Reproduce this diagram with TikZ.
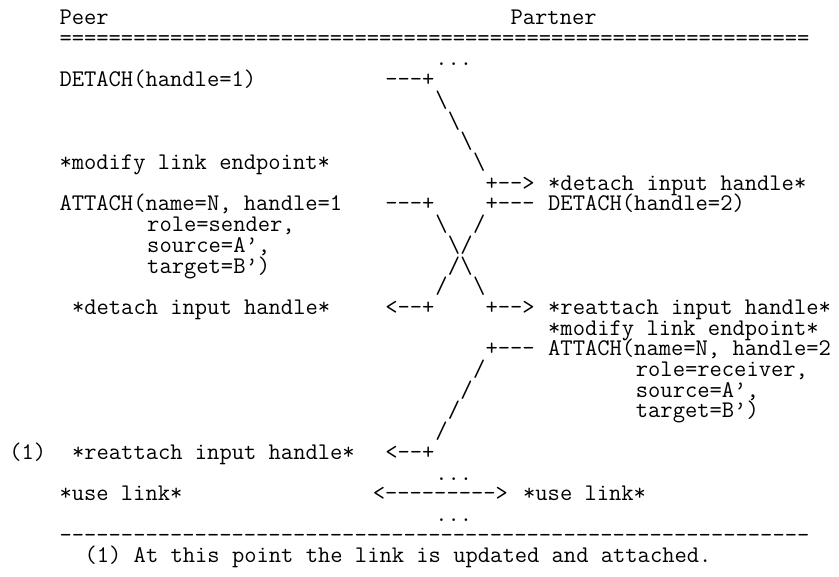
\documentclass[tikz,border=0pt]{standalone}
\usepackage{tikz}
\tikzset{
ascii/.style = {anchor=base west, inner sep=0pt, outer sep=0pt,
  font=\fontsize{23.87pt}{20.7pt}\selectfont\ttfamily},% one piece of the listing
wire/.style = {ascii},% connector drawn with ascii characters
}

\begin{document}
\begin{tikzpicture}[x=12.53pt, y=-20.7pt]
  \useasboundingbox (-4.749,-1.188) rectangle (62.21,26.686);
  % heading
  \node [ascii] (peer) at (0,0) {Peer};
  \node [ascii] (partner) at (36,0) {Partner};
  \node [ascii] (toprule) at (0,1) {=============================================================};
  % detach of handle 1
  \node [ascii] (dotsA) at (30,2) {...};
  \node [ascii] (detachA) at (0,3) {DETACH(handle=1)};
  \node [wire] (detachAout) at (26,3) {---+};
  \foreach \c/\r in {30/4,31/5,32/6,33/7}
    \node [wire] (dn\r) at (\c,\r) {\textbackslash};
  \node [ascii] (modifyA) at (0,7) {*modify link endpoint*};
  \node [wire] (detachBin) at (34,8) {+-->};
  \node [ascii] (detachinB) at (39,8) {*detach input handle*};
  % crossing attach / detach
  \node [ascii] (attachA) at (0,9) {ATTACH(name=N, handle=1};
  \node [wire] (attachAout) at (26,9) {---+};
  \node [wire] (detachBout) at (34,9) {+---};
  \node [ascii] (detachB) at (39,9) {DETACH(handle=2)};
  \node [ascii] (roleA) at (7,10) {role=sender,};
  \node [ascii] (sourceA) at (7,11) {source=A’,};
  \node [ascii] (targetA) at (7,12) {target=B’)};
  \foreach \c/\r in {30/10,31/11,32/12,33/13}
    \node [wire] (xa\r) at (\c,\r) {\textbackslash};
  \foreach \c/\r in {33/10,32/11,31/12,30/13}
    \node [wire] (xb\r) at (\c,\r) {/};
  \node [ascii] (detachinA) at (1,14) {*detach input handle*};
  \node [wire] (detachAin) at (26,14) {<--+};
  \node [wire] (attachBin) at (34,14) {+-->};
  \node [ascii] (reattachB) at (39,14) {*reattach input handle*};
  % attach of handle 2
  \node [ascii] (modifyB) at (39,15) {*modify link endpoint*};
  \node [wire] (attachBout) at (34,16) {+---};
  \node [ascii] (attachB) at (39,16) {ATTACH(name=N, handle=2};
  \node [ascii] (roleB) at (46,17) {role=receiver,};
  \node [ascii] (sourceB) at (46,18) {source=A’,};
  \node [ascii] (targetB) at (46,19) {target=B’)};
  \foreach \c/\r in {33/17,32/18,31/19,30/20}
    \node [wire] (up\r) at (\c,\r) {/};
  \node [ascii] (mark) at (-4,21) {(1)};
  \node [ascii] (reattachA) at (1,21) {*reattach input handle*};
  \node [wire] (attachAin) at (26,21) {<--+};
  % link in use
  \node [ascii] (dotsB) at (30,22) {...};
  \node [ascii] (useA) at (0,23) {*use link*};
  \node [wire] (uselink) at (25,23) {<--------->};
  \node [ascii] (useB) at (37,23) {*use link*};
  \node [ascii] (dotsC) at (30,24) {...};
  \node [ascii] (botrule) at (0,25) {-------------------------------------------------------------};
  \node [ascii] (note) at (2,26) {(1) At this point the link is updated and attached.};
\end{tikzpicture}
\end{document}
